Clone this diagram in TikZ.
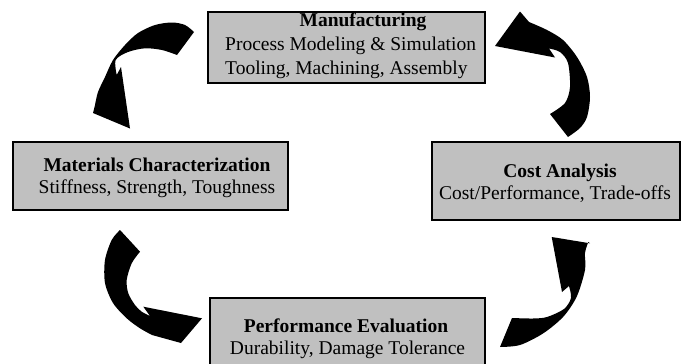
\documentclass[tikz,border=0pt]{standalone}
\usepackage{fontspec}
\setmainfont{Liberation Serif}
\definecolor{boxgray}{HTML}{C0C0C0}
\begin{document}
\begin{tikzpicture}[x=1pt,y=-1pt,
  stagebox/.style={draw=black,fill=boxgray,line width=1.1pt,rectangle,inner sep=0pt},
  lbl/.style={inner sep=0pt,font=\fontsize{19.5}{23.4}\selectfont},
  blockarrow/.style={fill=black}]
\useasboundingbox (0,0) rectangle (681,364);
\clip (0,0) rectangle (681,364);
% boxes
\node[stagebox,minimum width=277pt,minimum height=71pt] (manu) at (346.5,47.5) {};
\node[stagebox,minimum width=275pt,minimum height=68pt] (mat) at (150.5,176) {};
\node[stagebox,minimum width=248pt,minimum height=78pt] (cost) at (556,181) {};
\node[stagebox,minimum width=275pt,minimum height=84pt] (perf) at (347.5,340) {};
% texts
\node[lbl,anchor=base] (manuT) at (363,27) {\textbf{Manufacturing}};
\node[lbl,anchor=base west] (manuA) at (225,50.5) {Process Modeling \& Simulation};
\node[lbl,anchor=base west] (manuB) at (225,74) {Tooling, Machining, Assembly};
\node[lbl,anchor=base] (matT) at (157,171.5) {\textbf{Materials Characterization}};
\node[lbl,anchor=base] (matA) at (157,193.5) {Stiffness, Strength, Toughness};
\node[lbl,anchor=base] (costT) at (560,177) {\textbf{Cost Analysis}};
\node[lbl,anchor=base] (costA) at (555,199.5) {Cost/Performance, Trade-offs};
\node[lbl,anchor=base] (perfT) at (346,332) {\textbf{Performance Evaluation}};
\node[lbl,anchor=base] (perfA) at (347.5,354.5) {Durability, Damage Tolerance};
% arrow top-left (Manufacturing -> Materials)
\fill[blockarrow] (194,32) -- plot[smooth] coordinates {(194,32) (185,25) (172,22.5) (155,25) (138,33) (125,45) (113,60) (105,77) (98,92) (95,105)}
  -- (93,113) -- (130,128.5) -- (121,67) -- (116.7,75)
  -- plot[smooth] coordinates {(116.7,75) (115.7,60) (128,52) (145,48.3) (162,50) (177,55)} -- cycle;
% arrow top-right (Cost -> Manufacturing)
\fill[blockarrow] (550,114) -- (568,137)
  -- plot[smooth] coordinates {(568,137) (580,128) (587,117) (590,97) (587,77) (577,57) (563,40) (547,30) (529,22)}
  -- (520,11.5) -- (495,46) -- (555,57.5) -- (549,48.5)
  -- plot[smooth] coordinates {(549,48.5) (560,52) (568,63) (570,87) (565,103) (550,114)} -- cycle;
% arrow bottom-left (Materials -> Performance)
\fill[blockarrow] (120,230)
  -- plot[smooth] coordinates {(120,230) (111.7,240) (105,260) (105,283) (113,303) (126.7,318.3) (140,328.3) (152,335)}
  -- (181,343) -- (202,318.3) -- (143.3,306.7) -- (150,316)
  -- plot[smooth] coordinates {(150,316) (141.7,311.7) (135,305) (128.3,293.3) (126.7,280) (131.7,263.3) (140,251.7)} -- cycle;
% arrow bottom-right (Performance -> Cost)
\fill[blockarrow] (512,318) -- (500,347)
  -- plot[smooth] coordinates {(500,347) (520,345) (543.3,333.3) (563.3,316.7) (576.7,296.7) (585,270) (585,253) (588.3,242)}
  -- (590,243.3) -- (551.7,237) -- (562,292) -- (569,286)
  -- plot[smooth] coordinates {(569,286) (571,298) (564,309) (547,317) (533,318.5) (512,318)} -- cycle;
\end{tikzpicture}
\end{document}
